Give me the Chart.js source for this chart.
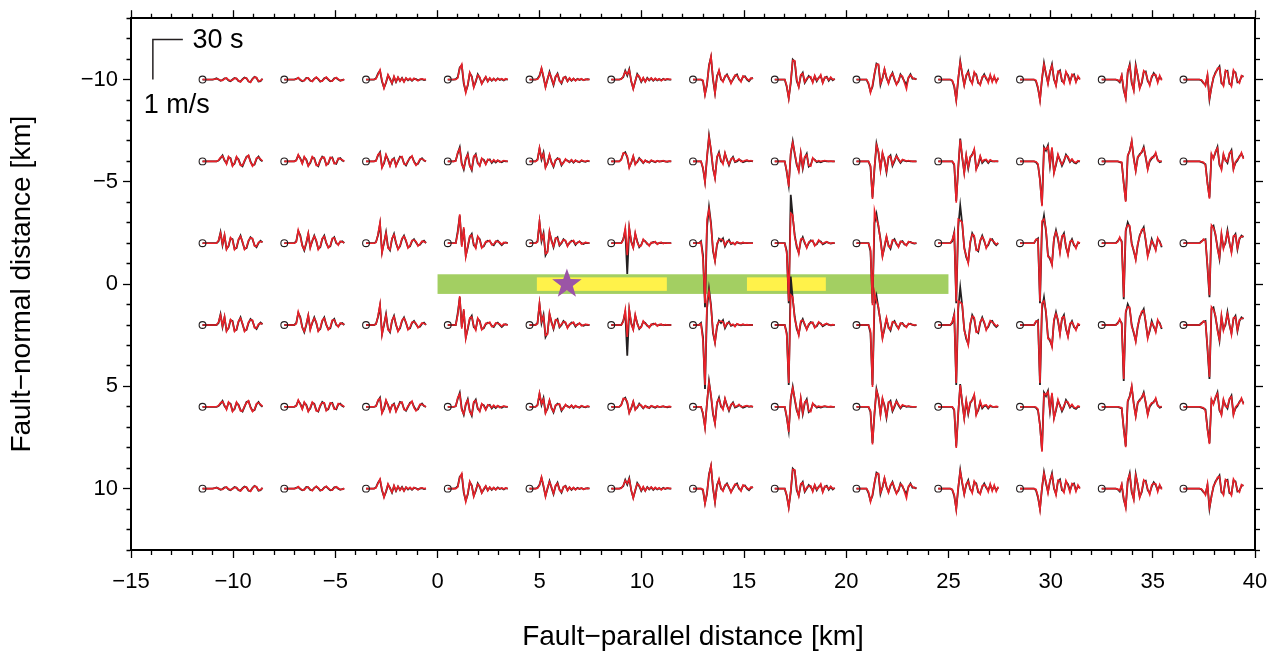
<!DOCTYPE html>
<html><head><meta charset="utf-8">
<script src="https://cdn.jsdelivr.net/npm/chart.js@4.4.1/dist/chart.umd.min.js"></script>
<style>html,body{margin:0;padding:0;background:#fff;}#wrap{width:1280px;height:661px;position:relative;}</style>
</head><body><div id="wrap"><canvas id="c"></canvas></div>
<script>
// ---------- axis ticks ----------
const xTickValues = [-15,-10,-5,0,5,10,15,20,25,30,35,40];
const xTickLabels = ['\u221215','\u221210','\u22125','0','5','10','15','20','25','30','35','40'];
const yTickValues = [-10,-5,0,5,10];
const yTickLabels = ['\u221210','\u22125','0','5','10'];
const xTitle = 'Fault\u2212parallel distance [km]';
const yTitle = 'Fault\u2212normal distance [km]';

// ---------- stations ----------
const stationX = [-11.5,-7.5,-3.5,0.5,4.5,8.5,12.5,16.5,20.5,24.5,28.5,32.5,36.5];
const stationY = [-10,-6,-2,2,6,10];
const timeSec = [0,2,4,6,8,10,12,14,16,18,20,22,24,26,28,30,32,34,36,38,40,42,44,46,48,50,52,54,56,58,60];

// ---------- fault ----------
const faultX = [0, 25];
const faultHalfWidth = 0.48;
const slipPatchA = [4.86, 11.22];
const slipPatchB = [15.14, 19.0];
const patchHalfWidth = 0.33;
const hypocenter = [6.33, 0];

// ---------- scale bar ----------
const scaleBarAnchor = [-13.93, -10.0];
const scaleBarSeconds = 30;
const scaleBarVelocity = 100; // cm/s = 1 m/s
const scaleBarLabels = ['30 s', '1 m/s'];

// plot scaling of traces: 1 s -> 1 px, 1 m/s -> 40 px (20.44 px per km)
const kmPerSecond = 1 / 20.44;
const kmPerCmPerS = 0.4 / 20.44;

// ---------- velocity traces (cm/s), rows at |y| = 10 km ----------
const blackD10 = [
 [0,0,0,0,0,0,1,3,0,-3,-1,3,3,-2,-4,0,4,2,-4,-5,1,5,3,-5,-6,2,7,4,-5,-4,2],
 [0,0,0,0,0,0,2,4,-1,-4,-2,4,3,-3,-4,2,5,1,-5,-3,3,5,0,-4,-3,3,4,0,-3,-1,0],
 [0,0,0,0,0,3,15,22,-5,-20,-8,10,2,-10,6,-6,5,-3,4,-5,3,-2,2,-3,2,1,-2,0,1,-1,0],
 [0,0,0,0,1,6,30,35,-10,-30,-15,16,8,-18,-6,13,4,-10,-2,6,-4,3,-3,2,-2,3,-1,1,-2,1,0],
 [0,0,0,0,2,10,27,5,-18,0,19,2,-14,6,15,-2,-10,4,7,-4,3,-3,2,-2,2,-1,1,-1,0,1,0],
 [0,0,0,0,0,2,6,22,10,26,-5,-22,-5,14,6,-6,3,-5,4,-2,3,-3,2,-2,1,-2,2,-1,1,0,0],
 [0,0,0,0,0,-4,-36,-13,36,56,0,-33,9,21,0,-4,7,13,2,-8,0,9,13,0,-4,7,8,0,-4,2,4],
 [0,0,0,0,0,0,-18,-46,-9,50,45,-4,-17,9,17,-8,0,9,4,-5,8,-4,5,9,-7,4,7,-3,4,-2,2],
 [0,0,0,0,0,0,-11,-30,-18,13,40,36,-13,4,25,4,-8,7,17,0,-11,-5,13,5,-5,-13,4,13,2,3,0],
 [0,0,0,0,0,0,0,-3,-18,-50,0,46,13,-13,9,21,-2,-8,16,13,-9,-11,4,13,2,-4,9,-3,5,-4,3],
 [0,0,0,0,0,0,0,0,-4,-22,-50,0,41,13,-8,18,38,0,-13,18,23,-4,-7,17,11,-5,9,13,-4,5,2],
 [0,0,0,0,0,0,0,0,-2,-7,9,-27,-45,18,38,-9,-25,36,9,-20,-9,18,20,-4,-11,5,16,9,-4,7,0],
 [0,0,0,0,0,0,0,0,0,-2,-9,-13,9,-50,-18,4,18,25,33,-9,-13,20,22,-11,-13,20,18,-7,-5,7,9]
];
const redD10 = [
 [0,0,0,0,0,0,1,2,1,-2,-2,2,4,-1,-3,-1,3,3,-3,-6,0,4,4,-4,-7,1,6,5,-4,-3,2],
 [0,0,0,0,0,0,1,5,0,-3,-3,3,4,-2,-5,1,6,2,-4,-4,2,6,1,-3,-4,2,5,1,-2,-2,1],
 [0,0,0,0,0,2,13,24,-2,-22,-6,12,0,-9,8,-5,6,-4,3,-6,4,-1,3,-2,3,0,-3,1,2,0,1],
 [0,0,0,0,0,4,28,38,-6,-33,-12,18,6,-20,-3,11,6,-11,0,7,-5,4,-2,3,-3,2,0,2,-1,2,0],
 [0,0,0,0,1,8,29,8,-20,2,17,4,-12,8,13,-4,-8,5,6,-5,4,-2,3,-3,1,0,2,-2,1,0,1],
 [0,0,0,0,0,1,8,20,13,24,-3,-24,-3,12,8,-4,5,-6,3,-1,4,-2,3,-1,2,-3,1,0,2,1,0],
 [0,0,0,0,0,-2,-38,-10,33,58,4,-35,6,24,2,-6,9,11,4,-10,2,11,10,2,-6,9,6,2,-2,4,2],
 [0,0,0,0,0,0,-15,-48,-5,48,47,0,-19,12,15,-6,3,6,7,-8,10,-2,3,12,-9,6,5,-1,6,0,1],
 [0,0,0,0,0,0,-8,-33,-14,16,38,38,-10,2,27,6,-10,9,15,3,-13,-2,11,8,-8,-24,6,11,5,1,2],
 [0,0,0,0,0,0,0,-2,-15,-53,4,43,16,-15,12,18,1,-11,19,10,-6,-14,7,10,5,-8,12,-6,9,-7,5],
 [0,0,0,0,0,0,0,0,-2,-19,-53,4,38,16,-11,21,35,3,-16,21,20,-1,-10,20,8,-9,13,10,-7,9,0],
 [0,0,0,0,0,0,0,0,-1,-5,11,-24,-48,22,35,-6,-28,33,12,-23,-6,22,17,-1,-15,9,13,12,-8,10,-2],
 [0,0,0,0,0,0,0,0,0,-1,-7,-16,12,-47,-21,7,15,28,30,-6,-16,23,19,-8,-17,24,15,-4,-9,10,6]
];
// rows at |y| = 6 km
const blackD6 = [
 [0,0,0,0,0,0,0,0,2,8,15,2,-5,10,8,-10,-6,10,5,-8,-12,0,12,14,0,-10,-8,6,12,4,0],
 [0,0,0,0,0,0,3,15,8,-4,10,5,-10,-4,10,8,-8,-12,2,12,8,-8,-6,8,10,-4,-6,6,8,2,0],
 [0,0,0,0,0,2,15,23,-14,-5,15,5,-10,3,8,-10,0,12,10,-5,-10,0,10,12,0,-8,-6,4,8,2,0],
 [0,0,0,0,2,20,35,-5,-20,5,19,-10,-22,10,18,-5,-10,6,4,-6,3,5,-4,2,-3,2,0,-2,1,0,0],
 [0,0,0,0,5,32,5,22,-14,-5,15,-2,-14,2,8,5,-10,-2,4,2,-2,3,-3,2,0,-2,2,0,-1,1,0],
 [0,0,0,0,0,5,19,23,10,-14,-4,12,-6,-2,8,2,-4,2,0,-3,2,0,-2,1,0,0,1,0,-1,0,0],
 [0,0,0,0,0,-18,-50,9,64,27,-18,-40,9,23,0,-4,19,4,-10,4,11,-2,0,4,2,-2,0,2,0,1,0],
 [0,0,0,0,0,0,-27,-60,18,50,18,-9,-22,19,-18,9,19,-13,-9,7,4,-2,0,-2,0,1,0,0,0,0,0],
 [0,0,0,0,0,0,0,-13,-90,-18,44,22,-18,19,4,-27,9,15,-11,0,15,4,-4,3,2,0,1,0,0,0,0],
 [0,0,0,0,0,0,0,0,-9,-99,-18,57,9,-27,13,-18,9,18,28,-18,-9,11,-4,2,3,-4,2,0,0,0,0],
 [0,0,0,0,0,0,0,0,-2,-9,-45,-109,36,27,40,-11,32,-27,-9,15,4,-11,0,17,9,-2,4,-3,-5,0,0],
 [0,0,0,0,0,0,0,0,0,-2,-4,-54,-98,13,27,49,9,-22,9,18,22,36,9,-18,0,7,13,19,4,-2,0],
 [0,0,0,0,0,0,0,0,0,-2,-4,-7,-54,-90,16,9,22,36,-9,-18,16,4,-4,18,28,-18,-4,2,13,19,9]
];
const redD6 = [
 [0,0,0,0,0,0,0,0,3,10,13,4,-7,12,6,-12,-4,12,3,-10,-10,2,10,15,-2,-12,-6,8,10,6,1],
 [0,0,0,0,0,0,2,17,6,-6,12,3,-12,-2,12,6,-10,-10,4,10,10,-10,-4,10,8,-6,-4,8,6,4,0],
 [0,0,0,0,0,1,17,21,-16,-3,17,3,-12,5,6,-12,2,10,12,-7,-8,2,8,14,-2,-10,-4,6,6,3,0],
 [0,0,0,0,1,23,32,-8,-18,8,17,-12,-20,13,16,-3,-12,8,2,-8,5,3,-2,4,-1,3,-2,0,2,1,0],
 [0,0,0,0,3,34,8,19,-16,-3,17,-4,-12,4,6,7,-8,-4,6,0,-1,4,-2,3,-1,-1,3,1,0,2,0],
 [0,0,0,0,0,4,21,20,13,-16,-2,14,-8,0,6,4,-3,3,-2,-2,3,1,-1,2,-1,1,2,-1,0,1,0],
 [0,0,0,0,0,-15,-53,12,61,30,-15,-43,12,20,3,-7,21,2,-8,6,9,0,2,6,0,0,2,3,1,2,0],
 [0,0,0,0,0,0,-24,-63,22,47,21,-6,-25,22,-15,12,16,-10,-12,9,2,0,2,0,1,2,1,0,1,0,0],
 [0,0,0,0,0,0,0,-10,-94,-14,41,25,-21,22,1,-24,12,12,-8,3,13,6,-2,5,3,1,2,1,0,0,0],
 [0,0,0,0,0,0,0,0,-6,-103,-14,54,12,-30,16,-15,12,15,31,-21,-6,14,-1,4,5,-2,4,1,0,1,0],
 [0,0,0,0,0,0,0,0,-1,-6,-48,-112,33,30,37,-8,35,-30,-6,18,1,-8,3,14,12,0,6,-1,-3,2,0],
 [0,0,0,0,0,0,0,0,0,-1,-2,-57,-101,16,24,52,6,-25,12,15,25,33,12,-21,3,10,10,22,2,0,1],
 [0,0,0,0,0,0,0,0,0,-1,-2,-10,-57,-93,19,6,25,33,-6,-21,19,1,-1,21,25,-21,-1,5,10,22,6]
];
// rows at |y| = 2 km
const blackD2 = [
 [0,0,0,0,0,0,0,0,5,27,-5,19,-14,-8,12,10,-14,-12,8,19,2,-14,-12,5,15,10,-5,-10,0,6,2],
 [0,0,0,0,0,0,5,30,20,-5,-18,0,23,-10,5,19,5,-14,-10,10,19,0,-10,-8,10,15,0,-3,3,5,0],
 [0,0,0,0,0,3,20,48,-22,0,27,-10,-18,10,23,0,-14,-8,10,19,5,-10,-8,5,10,2,-5,-4,3,6,0],
 [0,0,0,0,0,30,69,-5,36,-31,-10,15,23,-5,-10,15,10,-10,-8,2,6,5,-2,-5,3,6,0,-5,0,2,0],
 [0,0,0,0,5,52,5,25,-30,-20,27,8,-10,10,15,-6,0,10,5,-6,0,6,5,-4,2,4,0,-2,1,0,0],
 [0,0,0,0,0,0,10,32,-77,36,5,-10,23,5,-10,-4,8,5,-2,-5,0,3,2,-1,0,1,0,0,0,0,0],
 [0,0,0,0,5,-30,-160,40,90,50,-20,-43,-5,11,5,12,-8,2,8,-2,0,-2,2,0,-1,1,0,0,0,0,0],
 [0,0,0,0,0,0,-20,-150,121,65,20,-10,-23,5,15,0,-10,0,7,5,-5,-3,6,4,-3,0,3,1,-1,0,0],
 [0,0,0,0,0,0,0,-20,-150,50,73,40,10,-31,-10,15,-5,-14,5,10,-2,-8,3,5,-3,-4,2,3,0,-1,0],
 [0,0,0,0,0,0,0,5,27,-150,40,94,48,-10,-35,-47,0,25,15,-15,-20,5,19,5,-10,-5,8,10,0,-5,0],
 [0,0,0,0,0,0,0,0,8,12,-150,40,69,30,-30,-40,-52,10,32,10,-20,15,25,-10,-27,0,10,-5,-10,0,0],
 [0,0,0,0,0,0,0,0,5,12,5,-140,30,52,40,0,-20,-39,-5,20,30,40,5,-30,-15,10,-5,-15,10,5,-10],
 [0,0,0,0,0,0,0,0,0,5,8,10,-60,-135,40,44,20,-10,-39,20,-10,0,32,0,-20,15,23,-15,10,19,15]
];
const redD2 = [
 [0,0,0,0,0,0,0,0,7,25,-3,21,-16,-6,14,8,-16,-10,10,17,4,-16,-10,7,13,12,-7,-8,2,4,3],
 [0,0,0,0,0,0,3,33,17,-7,-16,2,25,-12,7,17,7,-16,-8,12,17,2,-12,-6,12,13,2,-5,5,3,1],
 [0,0,0,0,0,2,22,52,-25,3,25,-12,-16,12,21,2,-16,-6,12,17,7,-12,-6,7,8,4,-7,-2,5,4,1],
 [0,0,0,0,0,25,72,-9,40,-34,-7,18,20,-2,-13,17,8,-12,-6,4,4,7,-4,-3,5,4,2,-3,2,1,0],
 [0,0,0,0,3,55,9,22,-26,-23,30,5,-8,13,12,-4,2,8,7,-8,2,4,7,-2,0,5,-2,0,2,1,0],
 [0,0,0,0,0,0,8,38,-30,40,2,-12,26,2,-8,-6,10,3,0,-7,2,1,4,-3,1,2,-1,1,0,0,0],
 [0,0,0,0,3,-40,-150,60,85,45,-15,-45,0,8,10,8,-5,5,5,0,2,-4,3,1,0,2,0,1,0,0,0],
 [0,0,0,0,0,0,-25,-145,75,70,15,-5,-26,10,12,3,-12,3,5,7,-7,-1,8,2,-1,2,4,0,0,1,0],
 [0,0,0,0,0,0,0,-15,-155,82,60,45,5,-34,-6,18,-8,-11,8,7,0,-10,5,3,-1,-6,4,2,1,0,0],
 [0,0,0,0,0,0,0,8,25,-145,60,57,52,-14,-30,-50,4,22,19,-18,-17,8,16,8,-13,-2,11,7,3,-3,1],
 [0,0,0,0,0,0,0,0,10,10,-145,55,60,35,-34,-36,-55,14,28,14,-24,18,21,-7,-30,4,7,-2,-13,3,0],
 [0,0,0,0,0,0,0,0,3,15,2,-135,35,45,44,-4,-17,-42,-2,17,34,36,9,-34,-11,6,-2,-18,13,2,-7],
 [0,0,0,0,0,0,0,0,0,3,10,7,-55,-130,45,38,24,-14,-36,24,-14,4,28,3,-24,18,20,-12,13,16,18]
];

// ---------- build datasets (first dataset is drawn on top) ----------
const FONT = "'Liberation Sans', Arial, Helvetica, sans-serif";
const BLACK = '#231f20';
const RED = '#ea2129';
const tracesByDistance = {10: [blackD10, redD10], 6: [blackD6, redD6], 2: [blackD2, redD2]};

function tracePoints(sx, sy, vals) {
  return vals.map((v, i) => ({x: sx + timeSec[i] * kmPerSecond, y: sy - v * kmPerCmPerS}));
}
const datasets = [];
const stationPts = [];
stationY.forEach(sy => stationX.forEach(sx => stationPts.push({x: sx, y: sy})));
datasets.push({data: stationPts, showLine: false, pointRadius: 3.4, pointBorderWidth: 1.1, pointBorderColor: BLACK, pointBackgroundColor: 'rgba(0,0,0,0)'});
const sbTop = scaleBarAnchor[1] - scaleBarVelocity * kmPerCmPerS;
datasets.push({data: [
  {x: scaleBarAnchor[0], y: scaleBarAnchor[1]},
  {x: scaleBarAnchor[0], y: sbTop},
  {x: scaleBarAnchor[0] + scaleBarSeconds * kmPerSecond, y: sbTop}],
  showLine: true, borderColor: BLACK, borderWidth: 1.5, pointRadius: 0, tension: 0});
stationY.forEach(sy => {
  const [bl, rd] = tracesByDistance[Math.abs(sy)];
  stationX.forEach((sx, ci) => {
    datasets.push({data: tracePoints(sx, sy, rd[ci]), showLine: true, borderColor: RED, borderWidth: 1.6, pointRadius: 0, tension: 0});
    datasets.push({data: tracePoints(sx, sy, bl[ci]), showLine: true, borderColor: BLACK, borderWidth: 1.8, pointRadius: 0, tension: 0});
  });
});

// ---------- plugins ----------
const faultPlugin = {
  id: 'fault',
  beforeDatasetsDraw(chart) {
    const {ctx, scales: {x, y}} = chart;
    const rect = (x0, x1, h, col) => {
      const px0 = x.getPixelForValue(x0), px1 = x.getPixelForValue(x1);
      const py0 = y.getPixelForValue(-h), py1 = y.getPixelForValue(h);
      ctx.fillStyle = col;
      ctx.fillRect(px0, py0, px1 - px0, py1 - py0);
    };
    ctx.save();
    rect(faultX[0], faultX[1], faultHalfWidth, '#a3cf62');
    rect(slipPatchA[0], slipPatchA[1], patchHalfWidth, '#fff24a');
    rect(slipPatchB[0], slipPatchB[1], patchHalfWidth, '#fff24a');
    const cx = x.getPixelForValue(hypocenter[0]), cy = y.getPixelForValue(hypocenter[1]);
    const R = 15.5, r = 6.2;
    ctx.beginPath();
    for (let k = 0; k < 10; k++) {
      const a = -Math.PI / 2 + k * Math.PI / 5;
      const rr = k % 2 === 0 ? R : r;
      const px = cx + rr * Math.cos(a), py = cy + rr * Math.sin(a);
      if (k === 0) ctx.moveTo(px, py); else ctx.lineTo(px, py);
    }
    ctx.closePath();
    ctx.fillStyle = '#9b55a6';
    ctx.fill();
    ctx.restore();
  }
};
const scaleTextPlugin = {
  id: 'scaleText',
  afterDatasetsDraw(chart) {
    const {ctx, scales: {x, y}} = chart;
    ctx.save();
    ctx.fillStyle = '#000';
    ctx.font = '27px ' + FONT;
    ctx.textBaseline = 'middle';
    ctx.textAlign = 'left';
    ctx.fillText(scaleBarLabels[0], x.getPixelForValue(scaleBarAnchor[0] + scaleBarSeconds * kmPerSecond + 0.47), y.getPixelForValue(sbTop) + 1);
    ctx.fillText(scaleBarLabels[1], x.getPixelForValue(scaleBarAnchor[0] - 0.45), y.getPixelForValue(scaleBarAnchor[1] + 1.27));
    ctx.restore();
  }
};

// ---------- axes ----------
const isMajor = v => Math.round(v) % 5 === 0;
const dashNear = ctx => isMajor(ctx.tick.value) ? [] : [4, 30];
const dashFar = ctx => isMajor(ctx.tick.value) ? [] : [0, 3.5, 30, 0];
const gridOpts = dash => ({drawOnChartArea: false, drawTicks: true, tickLength: 8, tickWidth: 1.3, tickColor: '#000', tickBorderDash: dash});
const borderOpts = {display: true, color: '#000', width: 2};

Chart.defaults.font.family = FONT;
Chart.defaults.color = '#000';

new Chart(document.getElementById('c'), {
  type: 'scatter',
  data: {datasets},
  options: {
    responsive: true, maintainAspectRatio: false, animation: false, events: [],
    devicePixelRatio: 1,
    layout: {padding: 0},
    plugins: {legend: {display: false}, tooltip: {enabled: false}},
    scales: {
      x: {type: 'linear', position: 'bottom', min: -15, max: 40,
        ticks: {stepSize: 1, autoSkip: false, maxRotation: 0, padding: 10.5, font: {size: 22},
          callback: v => { const k = xTickValues.indexOf(Math.round(v)); return (k >= 0 && Math.abs(v - Math.round(v)) < 1e-6) ? xTickLabels[k] : ''; }},
        grid: gridOpts(dashNear), border: borderOpts,
        title: {display: true, text: xTitle, font: {size: 28}, padding: {top: 0, bottom: 7.2}},
        afterFit: s => { s.height = 111; }},
      x2: {type: 'linear', position: 'top', min: -15, max: 40,
        ticks: {stepSize: 1, autoSkip: false, display: false},
        grid: gridOpts(dashFar), border: borderOpts,
        afterFit: s => { s.height = 17; }},
      y: {type: 'linear', position: 'left', min: -13, max: 13, reverse: true,
        ticks: {stepSize: 1, autoSkip: false, padding: 5, font: {size: 22},
          callback: v => { const k = yTickValues.indexOf(Math.round(v)); return (k >= 0 && Math.abs(v - Math.round(v)) < 1e-6) ? yTickLabels[k] : ''; }},
        grid: gridOpts(dashFar), border: borderOpts,
        title: {display: true, text: yTitle, font: {size: 28}, padding: {top: 5.2, bottom: 0}},
        afterFit: s => { s.width = 131; }},
      y2: {type: 'linear', position: 'right', min: -13, max: 13, reverse: true,
        ticks: {stepSize: 1, autoSkip: false, display: false},
        grid: gridOpts(dashNear), border: borderOpts,
        afterFit: s => { s.width = 25; }}
    }
  },
  plugins: [faultPlugin, scaleTextPlugin]
});
</script></body></html>
